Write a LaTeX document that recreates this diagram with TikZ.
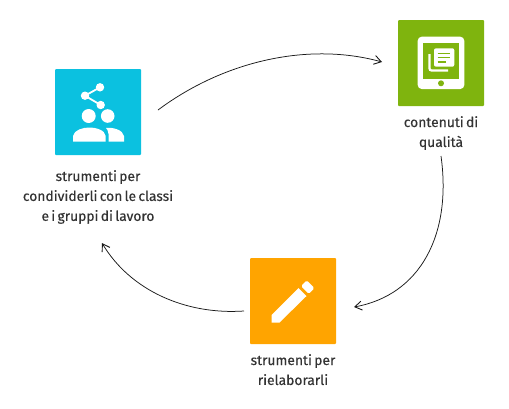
\documentclass[tikz,border=0pt]{standalone}
\usepackage{fontspec}
\setmainfont[FakeBold=0.25,WordSpace=0.62]{Fira Sans}
\usetikzlibrary{positioning,arrows.meta,calc}
\definecolor{sharecol}{HTML}{0BC1E0}
\definecolor{tabletcol}{HTML}{7FB40E}
\definecolor{pencilcol}{HTML}{FFA400}
\definecolor{labelcol}{HTML}{333333}
\tikzset{
  iconbox/.style={fill=#1,rounded corners=1pt,minimum size=86bp,inner sep=0pt,outer sep=0pt},
  caption/.style={text=labelcol,font=\fontsize{13.9}{20}\selectfont,align=center,inner sep=0pt},
  cycleline/.style={-{Straight Barb[length=7bp,width=9bp,line width=0.9bp]},line width=0.75bp,black!90}
}
\begin{document}
\begin{tikzpicture}[x=1bp,y=-1bp,>=Latex]
  \useasboundingbox (0,0) rectangle (509,408);
  \node[iconbox=sharecol] (share) at (98,112) {};
  \node[iconbox=tabletcol] (tablet) at (441,63) {};
  \node[iconbox=pencilcol] (pencil) at (293,301) {};
  \node[caption,below=15bp of share] (sharetext) {strumenti per\\condividerli con le classi\\e i gruppi di lavoro};
  \node[caption,below=10bp of tablet] (tablettext) {contenuti di\\qualità};
  \node[caption,below=10bp of pencil] (penciltext) {strumenti per\\rielaborarli};
  % share icon
  \begin{scope}[white]
    \draw[line width=1.8bp] (100,87.3) -- (85,95.7) -- (100.7,105);
    \fill (100,87.3) circle (4.2) (85,95.7) circle (4.2) (100.7,105) circle (4.2);
    \fill (88.7,116) circle (7) (107.7,116) circle (6.8);
    \fill (73,141.7) -- (73,136) .. controls (74,130) and (83,127.5) .. (89,127.5) .. controls (96,127.5) and (105,130) .. (105.7,136) -- (105.7,141.7) -- cycle;
    \fill (108.5,141.7) -- (108.5,134) .. controls (108.5,131) and (107,129) .. (106,128) .. controls (113,127) and (123,130) .. (124,136) -- (124,141.7) -- cycle;
  \end{scope}
  % tablet icon
  \fill[white,rounded corners=4bp] (417.7,36.7) rectangle (464.3,89);
  \fill[tabletcol] (423.3,42.7) rectangle (458.7,79.3);
  \fill[tabletcol] (441,83.3) circle (3);
  \fill[white,rounded corners=2bp] (434,48.3) rectangle (454.3,66.7);
  \draw[tabletcol,line width=1.3bp] (437.7,53.3) -- (450,53.3) (437.7,57.7) -- (450,57.7) (437.7,61.9) -- (445.7,61.9);
  \draw[white,line width=2.2bp,rounded corners=2bp] (429.5,54) -- (429.5,70.5) -- (448,70.5);
  % pencil icon
  \fill[white] (271.7,315) -- (271.7,322.7) -- (279.3,322.7) -- (306.5,296) -- (298.5,288) -- cycle;
  \fill[white,rounded corners=1.5bp] (301,286) -- (308.8,293.8) -- (314.5,288.2) -- (306.7,280.4) -- cycle;
  % connectors
  \coordinate (a) at (158,110);
  \coordinate (b) at (382,62);
  \coordinate (c) at (441,156);
  \coordinate (d) at (354,307);
  \coordinate (e) at (244,311);
  \coordinate (f) at (102,243);
  \draw[cycleline] (a) .. controls (225,60) and (310,42) .. (b);
  \draw[cycleline] (c) .. controls (452,235) and (420,295) .. (d);
  \draw[cycleline] (e) .. controls (185,315) and (130,290) .. (f);
\end{tikzpicture}
\end{document}
